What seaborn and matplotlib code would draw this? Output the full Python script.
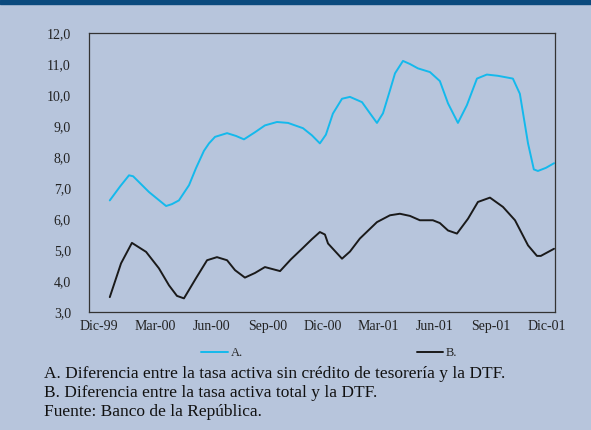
import numpy as np
import pandas as pd
import matplotlib
matplotlib.use("Agg")
import matplotlib.pyplot as plt
import seaborn as sns

# meses desde dic-99 (eje)
mes_a = [1.07, 1.60, 2.06, 2.27, 3.09, 3.97, 4.27, 4.63, 5.15, 5.51, 5.92, 6.18,
         6.49, 7.11, 7.57, 7.98, 8.55, 9.06, 9.68, 10.25, 11.02, 11.48, 11.89,
         12.20, 12.56, 13.03, 13.44, 14.06, 14.47, 14.83, 15.14, 15.50, 15.76,
         16.17, 16.53, 16.94, 17.56, 18.07, 18.49, 19.00, 19.46, 19.98, 20.49,
         21.06, 21.83, 22.19, 22.61, 22.91, 23.12, 23.53, 23.95]
serie_a = [6.60, 7.05, 7.41, 7.38, 6.87, 6.42, 6.48, 6.60, 7.09, 7.64, 8.20, 8.44,
           8.65, 8.77, 8.68, 8.57, 8.80, 9.02, 9.13, 9.10, 8.93, 8.70, 8.44,
           8.72, 9.40, 9.88, 9.94, 9.77, 9.41, 9.10, 9.41, 10.15, 10.70,
           11.10, 11.00, 10.86, 10.74, 10.45, 9.73, 9.10, 9.67, 10.53, 10.66,
           10.62, 10.53, 10.04, 8.44, 7.60, 7.55, 7.65, 7.80]

mes_b = [1.07, 1.65, 2.21, 2.94, 3.60, 4.12, 4.53, 4.89, 5.51, 6.08, 6.59, 7.11,
         7.52, 8.03, 8.55, 9.06, 9.84, 10.40, 10.97, 11.48, 11.89, 12.15, 12.31,
         13.03, 13.44, 13.95, 14.83, 15.50, 16.01, 16.53, 17.04, 17.71, 18.07,
         18.49, 18.95, 19.52, 20.03, 20.65, 21.32, 21.94, 22.61, 23.07, 23.27,
         23.95]
serie_b = [3.48, 4.57, 5.23, 4.94, 4.41, 3.86, 3.52, 3.44, 4.09, 4.67, 4.77, 4.67,
           4.35, 4.11, 4.26, 4.45, 4.32, 4.70, 5.04, 5.35, 5.58, 5.50, 5.21,
           4.72, 4.95, 5.37, 5.90, 6.12, 6.17, 6.10, 5.96, 5.96, 5.87,
           5.63, 5.53, 6.01, 6.55, 6.69, 6.39, 5.96, 5.15, 4.81, 4.81,
           5.04]

etiquetas_x = ["Dic-99", "Mar-00", "Jun-00", "Sep-00", "Dic-00", "Mar-01",
               "Jun-01", "Sep-01", "Dic-01"]
pos_etiquetas = [0.5, 3.4, 6.3, 9.2, 12.05, 14.9, 17.8, 20.7, 23.6]

fondo = "#b7c5dc"
cian = "#14b9ec"

sns.set_style("white")
plt.rcParams["font.family"] = ["Liberation Serif", "DejaVu Serif"]

fig = plt.figure(figsize=(5.91, 4.30), dpi=100, facecolor=fondo)
ax = fig.add_axes([0.1506, 0.2744, 0.7885, 0.6488])
ax.set_facecolor(fondo)

# franja superior
fig.patches.append(plt.Rectangle((0, 0.99), 1, 0.01, transform=fig.transFigure,
                                 color="#0b4a7e", zorder=5))

df_a = pd.DataFrame({"mes": mes_a, "valor": serie_a})
df_b = pd.DataFrame({"mes": mes_b, "valor": serie_b})
sns.lineplot(data=df_a, x="mes", y="valor", color=cian, lw=1.4, ax=ax, label="A.",
             solid_joinstyle="round")
sns.lineplot(data=df_b, x="mes", y="valor", color="#1a1a1a", lw=1.4, ax=ax, label="B.",
             solid_joinstyle="round")

ax.set_xlim(0, 24)
ax.set_ylim(3, 12)
ax.set_xlabel("")
ax.set_ylabel("")
ax.set_yticks(np.arange(3, 13, 1))
ax.set_yticklabels([f"{v:.1f}".replace(".", ",") for v in np.arange(3, 13, 1)],
                   fontsize=10, color="#222222")
ax.set_xticks(np.arange(0, 25, 3))
ax.set_xticklabels([])
ax.set_xticks(pos_etiquetas, minor=True)
ax.set_xticklabels(etiquetas_x, minor=True, fontsize=10, color="#222222")
ax.tick_params(axis="x", which="minor", length=0, pad=6)
ax.tick_params(axis="x", which="major", direction="in", length=4, color="#333333")
ax.tick_params(axis="y", direction="in", length=4, color="#333333", pad=13)
for s in ax.spines.values():
    s.set_color("#333333")
    s.set_linewidth(0.9)

ax.get_legend().remove()
h, l = ax.get_legend_handles_labels()
fig.legend(h, l, loc="center", bbox_to_anchor=(0.5575, 0.179), ncol=2, frameon=False,
           fontsize=9, handlelength=2.1, columnspacing=13.9, handletextpad=0.25)

notas = ["A. Diferencia entre la tasa activa sin crédito de tesorería y la DTF.",
         "B. Diferencia entre la tasa activa total y la DTF.",
         "Fuente: Banco de la República."]
for i, t in enumerate(notas):
    fig.text(0.075, 1 - (374 + 19 * i) / 430, t, fontsize=12.5, color="#111111",
             va="center", ha="left")

fig.savefig("out.png", dpi=100, facecolor=fondo)
